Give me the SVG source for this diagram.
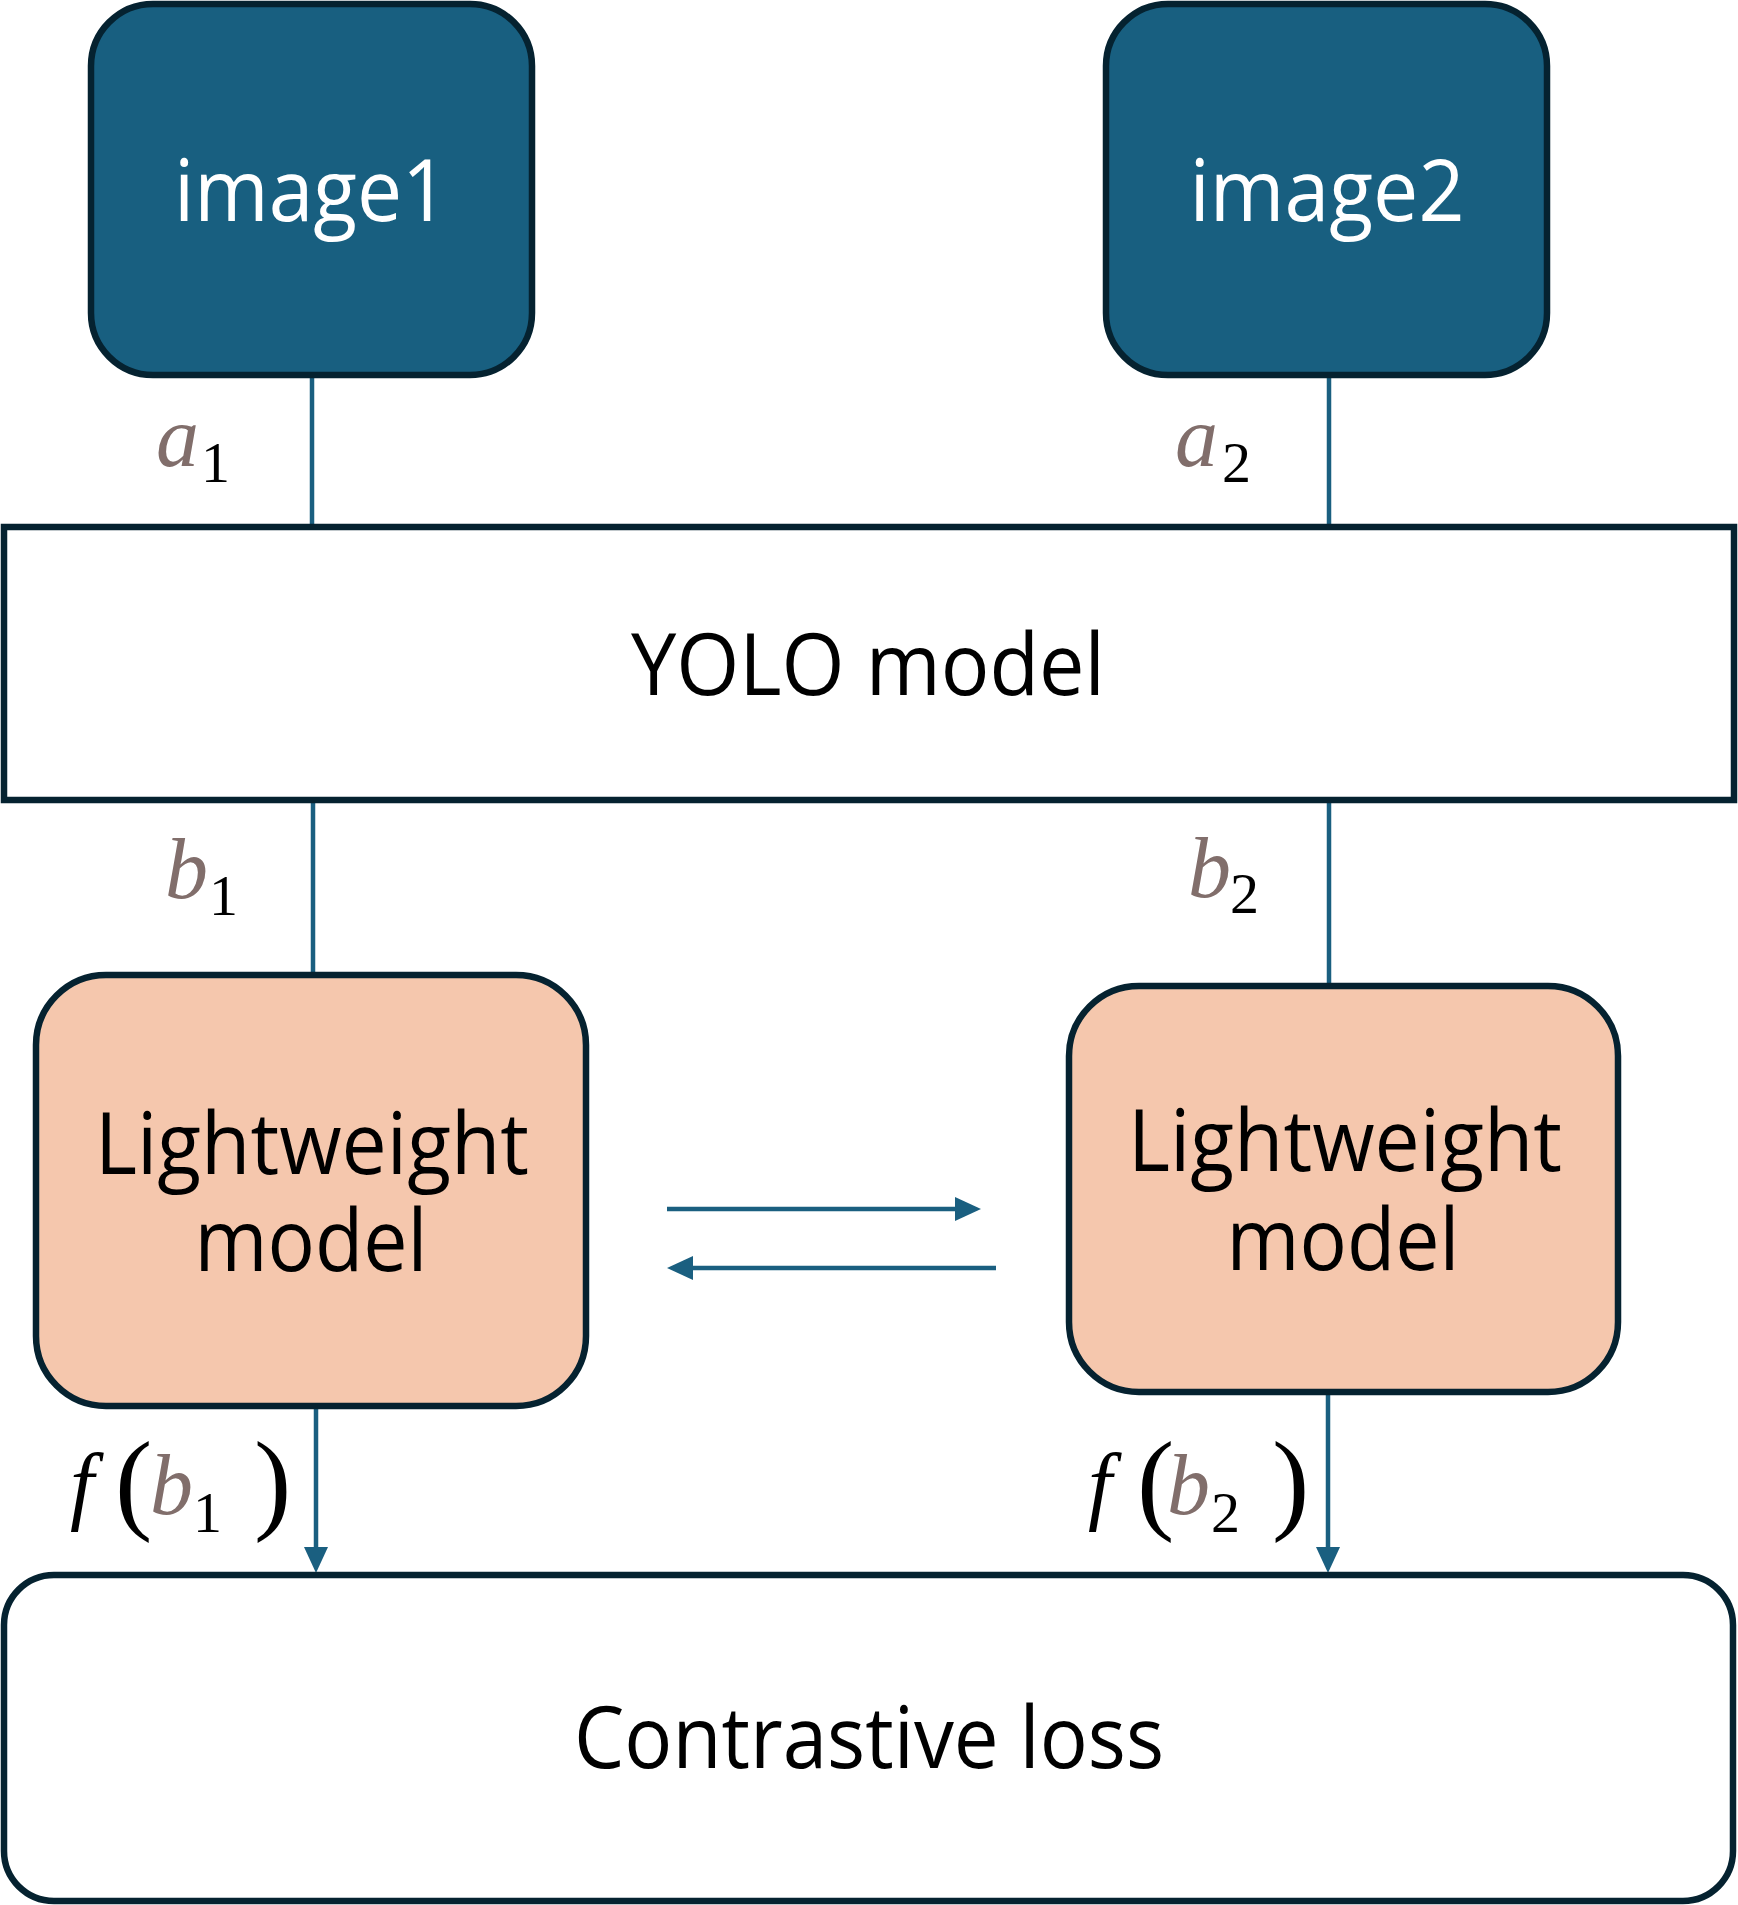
<svg xmlns="http://www.w3.org/2000/svg" width="1738" height="1905" viewBox="0 0 1738 1905">
<style>
.lbl{font-family:"Open Sans","Noto Sans","Liberation Sans",sans-serif;font-size:86px;text-anchor:middle;fill:#000}
.wt{fill:#fff}
.math{font-family:"Liberation Serif","DejaVu Serif",serif}
.m{font-style:italic;font-size:86px;fill:#816e6b}
.mb{font-style:italic;font-size:86px;fill:#000}
.sub{font-style:normal;font-size:58px;fill:#000}
.par{font-style:normal;font-size:112px;fill:#000}
.conn{stroke:#1a5f80;stroke-width:4.5;fill:none}
.blue{fill:#185f80;stroke:#052230;stroke-width:6.5}
.peach{fill:#f5c7ad;stroke:#052230;stroke-width:6.5}
.white{fill:#fff;stroke:#052230;stroke-width:6.5}
</style>
<defs>
<marker id="ah" viewBox="0 0 26 26" refX="6" refY="13" markerWidth="26" markerHeight="26" markerUnits="userSpaceOnUse" orient="auto">
<path d="M0,1 L26,13 L0,25 z" fill="#1a5f80"/>
</marker>
</defs>
<rect width="1738" height="1905" fill="#fff"/>
<g id="connectors">
<line class="conn" x1="312" y1="375" x2="312" y2="527"/>
<line class="conn" x1="1329" y1="375" x2="1329" y2="527"/>
<line class="conn" x1="313" y1="800" x2="313" y2="975"/>
<line class="conn" x1="1329" y1="800" x2="1329" y2="986"/>
<line class="conn" x1="316" y1="1407" x2="316" y2="1553" marker-end="url(#ah)"/>
<line class="conn" x1="1328" y1="1393" x2="1328" y2="1553" marker-end="url(#ah)"/>
<line class="conn" x1="667" y1="1209" x2="961" y2="1209" marker-end="url(#ah)"/>
<line class="conn" x1="996" y1="1268" x2="687" y2="1268" marker-end="url(#ah)"/>
</g>
<g id="image1">
<rect class="blue" x="91" y="4" width="441" height="371" rx="62" ry="62"/>
<text class="lbl wt" x="311" y="221" textLength="274" lengthAdjust="spacingAndGlyphs">image1</text>
</g>
<g id="image2">
<rect class="blue" x="1106" y="4" width="441" height="371" rx="62" ry="62"/>
<text class="lbl wt" x="1327" y="221" textLength="275" lengthAdjust="spacingAndGlyphs">image2</text>
</g>
<g id="yolo">
<rect class="white" x="4" y="527" width="1730" height="273"/>
<text class="lbl" x="868" y="695" textLength="474" lengthAdjust="spacingAndGlyphs">YOLO model</text>
</g>
<g id="lightweight1">
<rect class="peach" x="36" y="975" width="550" height="431" rx="70" ry="70"/>
<text class="lbl"><tspan x="312" y="1174" textLength="434" lengthAdjust="spacingAndGlyphs">Lightweight</tspan><tspan x="311" y="1271" textLength="233" lengthAdjust="spacingAndGlyphs">model</tspan></text>
</g>
<g id="lightweight2">
<rect class="peach" x="1069" y="986" width="549" height="406" rx="70" ry="70"/>
<text class="lbl"><tspan x="1345" y="1171" textLength="434" lengthAdjust="spacingAndGlyphs">Lightweight</tspan><tspan x="1343" y="1270" textLength="233" lengthAdjust="spacingAndGlyphs">model</tspan></text>
</g>
<g id="contrastive">
<rect class="white" x="4" y="1575" width="1729" height="326" rx="50" ry="50"/>
<text class="lbl" x="869" y="1768" textLength="590" lengthAdjust="spacingAndGlyphs">Contrastive loss</text>
</g>
<g id="labels">
<text class="math"><tspan class="m" x="156" y="466">a</tspan><tspan class="sub" x="201" y="482">1</tspan></text>
<text class="math"><tspan class="m" x="1175" y="466">a</tspan><tspan class="sub" x="1222" y="482">2</tspan></text>
<text class="math"><tspan class="m" x="165" y="898">b</tspan><tspan class="sub" x="209" y="915">1</tspan></text>
<text class="math"><tspan class="m" x="1188" y="897">b</tspan><tspan class="sub" x="1230" y="913">2</tspan></text>
<text class="math"><tspan class="mb" x="70" y="1513">f</tspan><tspan class="par" x="115" y="1519">(</tspan><tspan class="m" x="150" y="1514">b</tspan><tspan class="sub" x="193" y="1532">1</tspan><tspan class="par" x="254" y="1519">)</tspan></text>
<text class="math"><tspan class="mb" x="1088" y="1513">f</tspan><tspan class="par" x="1137" y="1519">(</tspan><tspan class="m" x="1167" y="1514">b</tspan><tspan class="sub" x="1211" y="1532">2</tspan><tspan class="par" x="1272" y="1519">)</tspan></text>
</g>
</svg>
